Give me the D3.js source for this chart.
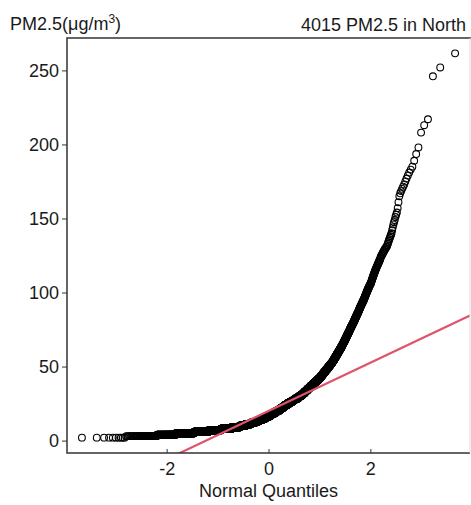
<!DOCTYPE html>
<html>
<head>
<meta charset="utf-8">
<script src="https://cdn.jsdelivr.net/npm/d3@7"></script>
<style>
  body { margin: 0; background: #fff; }
  text { font-family: "Liberation Sans", Arial, sans-serif; fill: #1a1a1a; }
</style>
</head>
<body>
<div id="chart"></div>
<script>
// sorted PM2.5 values (run-length: value, how many samples)
const pmValues = [2, 3, 4, 5, 6, 7, 8, 9,
  10, 11, 12, 13, 14, 15, 16,
  17, 18, 19, 20, 21, 22, 23, 24,
  25, 26, 27, 28, 29, 30, 31,
  32, 33, 34, 35, 36, 37, 38, 39,
  40, 41, 42,
  43, 44, 45, 46, 47, 48, 49, 50, 51, 52,
  53, 54, 55, 56, 57, 58, 59, 60, 61, 62, 63,
  64, 65, 66, 67, 68, 69, 70, 71, 72, 73, 74, 75, 76, 77,
  78, 79, 80, 81, 82, 83, 84, 85, 86, 87, 88, 89, 90, 91,
  92, 93, 94, 95, 96, 97, 98, 99, 100, 101, 102, 103, 104, 105, 106,
  107, 108, 109, 110, 111, 112, 113, 114, 115, 116, 117, 118, 119, 120, 121, 122, 123,
  124, 125, 126, 127, 128, 129, 130, 131, 132, 133, 134, 135, 136, 137, 138, 139];
const pmCounts = [10, 47, 81, 152, 192, 225, 236, 205,
  162, 148, 134, 117, 107, 95, 97,
  79, 80, 80, 79, 65, 64, 64, 63,
  67, 67, 66, 65, 63, 55, 47,
  39, 38, 37, 36, 35, 34, 33, 33,
  33, 31, 28,
  22, 22, 21, 21, 20, 20, 19, 18, 18, 17,
  13, 13, 12, 12, 12, 11, 11, 11, 10, 10, 10,
  8, 8, 8, 8, 7, 7, 7, 7, 7, 7, 6, 6, 6, 6,
  6, 6, 5, 5, 5, 5, 5, 5, 5, 4, 4, 4, 4, 4,
  4, 4, 4, 4, 3, 3, 3, 3, 3, 3, 3, 3, 3, 3, 3,
  2, 2, 2, 2, 2, 2, 2, 2, 2, 2, 2, 2, 2, 2, 2, 2, 1,
  2, 2, 2, 2, 2, 2, 2, 2, 1, 1, 1, 1, 1, 1, 1, 1];
// the highest samples, one each
const pmTail = [140, 142, 144, 146, 147.5, 149, 151, 152.5, 154, 157, 161, 165,
  167, 168.5, 170, 171.5, 173, 175, 177, 179, 181, 183, 185, 189, 193.5,
  198, 208, 213, 217, 246, 252, 261.5];

const xTicks = [-2, 0, 2];
const yTicks = [0, 50, 100, 150, 200, 250];

const titleText = "4015 PM2.5 in North";
const xTitle = "Normal Quantiles";

// inverse normal CDF (Acklam)
function qnorm(p) {
  const a = [-3.969683028665376e+01, 2.209460984245205e+02, -2.759285104469687e+02,
    1.383577518672690e+02, -3.066479806614716e+01, 2.506628277459239e+00];
  const b = [-5.447609879822406e+01, 1.615858368580409e+02, -1.556989798598866e+02,
    6.680131188771972e+01, -1.328068155288572e+01];
  const c = [-7.784894002430293e-03, -3.223964580411365e-01, -2.400758277161838e+00,
    -2.549671010114300e+00, 4.374664141464968e+00, 2.938163982698783e+00];
  const d = [7.784695709041462e-03, 3.224671290700398e-01, 2.445134137142996e+00,
    3.754408661907416e+00];
  const pl = 0.02425;
  let q, r;
  if (p < pl) {
    q = Math.sqrt(-2 * Math.log(p));
    return (((((c[0] * q + c[1]) * q + c[2]) * q + c[3]) * q + c[4]) * q + c[5]) /
      ((((d[0] * q + d[1]) * q + d[2]) * q + d[3]) * q + 1);
  }
  if (p > 1 - pl) {
    q = Math.sqrt(-2 * Math.log(1 - p));
    return -(((((c[0] * q + c[1]) * q + c[2]) * q + c[3]) * q + c[4]) * q + c[5]) /
      ((((d[0] * q + d[1]) * q + d[2]) * q + d[3]) * q + 1);
  }
  q = p - 0.5;
  r = q * q;
  return (((((a[0] * r + a[1]) * r + a[2]) * r + a[3]) * r + a[4]) * r + a[5]) * q /
    (((((b[0] * r + b[1]) * r + b[2]) * r + b[3]) * r + b[4]) * r + 1);
}

// expand the sample, then pair with theoretical quantiles like qqnorm
const sample = [];
pmValues.forEach((v, i) => { for (let k = 0; k < pmCounts[i]; k++) sample.push(v); });
pmTail.forEach(v => sample.push(v));
const n = sample.length;
const pts = sample.map((v, i) => ({ q: qnorm((i + 1 - 0.5) / n), v: v }));

// qqline through the quartiles
const q1 = d3.quantile(sample, 0.25), q3 = d3.quantile(sample, 0.75);
const slope = (q3 - q1) / (qnorm(0.75) - qnorm(0.25));
const intercept = q1 - slope * qnorm(0.25);

const W = 471, H = 505;
const plot = { left: 67, right: 470, top: 38, bottom: 453 };

const svg = d3.select("#chart").append("svg")
  .attr("width", W).attr("height", H);

// R style 4% padding
function pad(ext) {
  const d = (ext[1] - ext[0]) * 0.04;
  return [ext[0] - d, ext[1] + d];
}
const x = d3.scaleLinear().domain(pad(d3.extent(pts, d => d.q))).range([plot.left, plot.right]);
const y = d3.scaleLinear().domain(pad(d3.extent(pts, d => d.v))).range([plot.bottom, plot.top]);

svg.append("clipPath").attr("id", "clip")
  .append("rect")
  .attr("x", plot.left).attr("y", plot.top)
  .attr("width", plot.right - plot.left).attr("height", plot.bottom - plot.top);

// points
svg.append("g")
  .selectAll("circle")
  .data(pts)
  .enter().append("circle")
  .attr("cx", d => x(d.q))
  .attr("cy", d => y(d.v))
  .attr("r", 3.4)
  .attr("fill", "none")
  .attr("stroke", "#000")
  .attr("stroke-width", 1.1);

// reference line
const xd = x.domain();
svg.append("line")
  .attr("clip-path", "url(#clip)")
  .attr("x1", x(xd[0])).attr("y1", y(intercept + slope * xd[0]))
  .attr("x2", x(xd[1])).attr("y2", y(intercept + slope * xd[1]))
  .attr("stroke", "#DF536B")
  .attr("stroke-width", 2.2);

// frame
svg.append("path")
  .attr("d", `M${plot.right + 1},${plot.top}H${plot.left}V${plot.bottom}H${plot.right}`)
  .attr("fill", "none")
  .attr("stroke", "#333")
  .attr("stroke-width", 1.5);
svg.append("line")
  .attr("x1", plot.right).attr("x2", plot.right)
  .attr("y1", plot.top).attr("y2", plot.bottom)
  .attr("stroke", "#ddd");

// axes
const xAxis = svg.append("g")
  .attr("transform", `translate(0,${plot.bottom})`)
  .call(d3.axisBottom(x).tickValues(xTicks).tickSize(-4).tickPadding(9).tickFormat(d3.format("d")));
const yAxis = svg.append("g")
  .attr("transform", `translate(${plot.left},0)`)
  .call(d3.axisLeft(y).tickValues(yTicks).tickSize(5).tickPadding(3));
[xAxis, yAxis].forEach(g => {
  g.select(".domain").remove();
  g.selectAll(".tick line").attr("stroke", "#333");
  g.selectAll(".tick text")
    .style("font-family", "'Liberation Sans', Arial, sans-serif")
    .style("font-size", "18px")
    .attr("fill", "#1a1a1a");
});
xAxis.selectAll(".tick text").text(d => d < 0 ? "-" + Math.abs(d) : d);

// titles
svg.append("text")
  .attr("x", 466).attr("y", 31)
  .attr("text-anchor", "end")
  .style("font-size", "18px")
  .text(titleText);

const yl = svg.append("text")
  .attr("x", 10).attr("y", 30)
  .style("font-size", "18px");
yl.append("tspan").text("PM2.5(μg/m");
yl.append("tspan").attr("dy", -7).style("font-size", "12px").text("3");
yl.append("tspan").attr("dy", 7).text(")");

svg.append("text")
  .attr("x", (plot.left + plot.right) / 2).attr("y", 497)
  .attr("text-anchor", "middle")
  .style("font-size", "18px")
  .text(xTitle);
</script>
</body>
</html>
